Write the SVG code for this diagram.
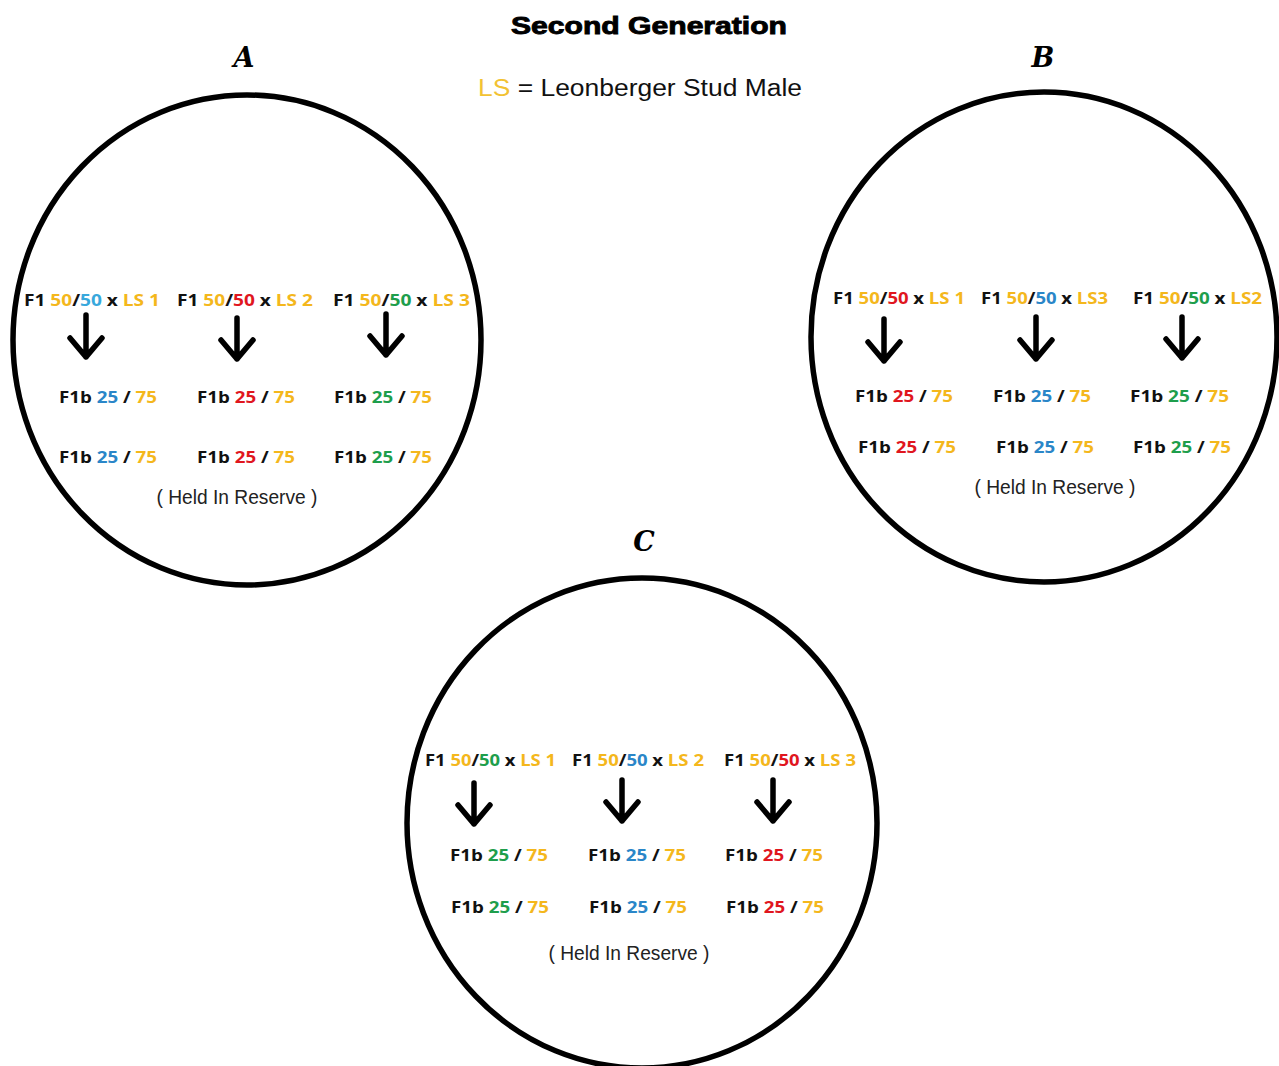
<svg xmlns="http://www.w3.org/2000/svg" width="1279" height="1066" viewBox="0 0 1279 1066">
<style>
.ring{fill:none;stroke:#000;stroke-width:5.5}
.arr{fill:none;stroke:#000;stroke-width:5.5;stroke-linecap:round;stroke-linejoin:round}
.t{font-family:"Open Sans","Liberation Sans",sans-serif;font-weight:700;font-size:16px}
.h{font-family:"Liberation Sans",Arial,sans-serif;font-size:20px;fill:#222;text-anchor:middle}
.lab{font-family:"DejaVu Serif","Liberation Serif",serif;font-weight:700;font-style:italic;font-size:27px;fill:#000;text-anchor:middle}
.k{fill:#111}.y{fill:#f4b71c}.b{fill:#2a86c8}.lb{fill:#38a8dc}.r{fill:#e0161e}.g{fill:#1e9e4c}
</style>
<rect width="1279" height="1066" fill="#fff"/>
<g id="header">
<text x="649" y="34" text-anchor="middle" font-family="'Liberation Sans',Arial,sans-serif" font-weight="900" font-size="24" stroke="#000" stroke-width="0.9" textLength="276" lengthAdjust="spacingAndGlyphs">Second Generation</text>
<text x="478" y="96" font-family="'Liberation Sans',Arial,sans-serif" font-size="23" textLength="324" lengthAdjust="spacingAndGlyphs"><tspan fill="#f2c233">LS</tspan><tspan fill="#111"> = Leonberger Stud Male</tspan></text>
</g>
<g id="nodeA">
<ellipse class="ring" cx="247" cy="340" rx="234" ry="245"/>
<text class="lab" x="244" y="67">A</text>
<text class="t" x="24" y="306" textLength="136" lengthAdjust="spacingAndGlyphs"><tspan class="k">F1 </tspan><tspan class="y">50</tspan><tspan class="k">/</tspan><tspan class="lb">50</tspan><tspan class="k" dx="4">x </tspan><tspan class="y">LS 1</tspan></text>
<text class="t" x="177" y="306" textLength="136" lengthAdjust="spacingAndGlyphs"><tspan class="k">F1 </tspan><tspan class="y">50</tspan><tspan class="k">/</tspan><tspan class="r">50</tspan><tspan class="k" dx="4">x </tspan><tspan class="y">LS 2</tspan></text>
<text class="t" x="333" y="306" textLength="137" lengthAdjust="spacingAndGlyphs"><tspan class="k">F1 </tspan><tspan class="y">50</tspan><tspan class="k">/</tspan><tspan class="g">50</tspan><tspan class="k" dx="4">x </tspan><tspan class="y">LS 3</tspan></text>
<text class="t" x="59" y="403" textLength="98" lengthAdjust="spacingAndGlyphs"><tspan class="k">F1b </tspan><tspan class="b">25</tspan><tspan class="k"> / </tspan><tspan class="y">75</tspan></text>
<text class="t" x="197" y="403" textLength="98" lengthAdjust="spacingAndGlyphs"><tspan class="k">F1b </tspan><tspan class="r">25</tspan><tspan class="k"> / </tspan><tspan class="y">75</tspan></text>
<text class="t" x="334" y="403" textLength="98" lengthAdjust="spacingAndGlyphs"><tspan class="k">F1b </tspan><tspan class="g">25</tspan><tspan class="k"> / </tspan><tspan class="y">75</tspan></text>
<text class="t" x="59" y="463" textLength="98" lengthAdjust="spacingAndGlyphs"><tspan class="k">F1b </tspan><tspan class="b">25</tspan><tspan class="k"> / </tspan><tspan class="y">75</tspan></text>
<text class="t" x="197" y="463" textLength="98" lengthAdjust="spacingAndGlyphs"><tspan class="k">F1b </tspan><tspan class="r">25</tspan><tspan class="k"> / </tspan><tspan class="y">75</tspan></text>
<text class="t" x="334" y="463" textLength="98" lengthAdjust="spacingAndGlyphs"><tspan class="k">F1b </tspan><tspan class="g">25</tspan><tspan class="k"> / </tspan><tspan class="y">75</tspan></text>
<text class="h" x="237" y="504" textLength="161" lengthAdjust="spacingAndGlyphs">( Held In Reserve )</text>
</g>
<g id="nodeB">
<ellipse class="ring" cx="1044" cy="337" rx="233" ry="245"/>
<text class="lab" x="1043" y="67">B</text>
<text class="t" x="833" y="304" textLength="132" lengthAdjust="spacingAndGlyphs"><tspan class="k">F1 </tspan><tspan class="y">50</tspan><tspan class="k">/</tspan><tspan class="r">50</tspan><tspan class="k" dx="4">x </tspan><tspan class="y">LS 1</tspan></text>
<text class="t" x="981" y="304" textLength="127" lengthAdjust="spacingAndGlyphs"><tspan class="k">F1 </tspan><tspan class="y">50</tspan><tspan class="k">/</tspan><tspan class="b">50</tspan><tspan class="k" dx="4">x </tspan><tspan class="y">LS3</tspan></text>
<text class="t" x="1133" y="304" textLength="129" lengthAdjust="spacingAndGlyphs"><tspan class="k">F1 </tspan><tspan class="y">50</tspan><tspan class="k">/</tspan><tspan class="g">50</tspan><tspan class="k" dx="4">x </tspan><tspan class="y">LS2</tspan></text>
<text class="t" x="855" y="402" textLength="98" lengthAdjust="spacingAndGlyphs"><tspan class="k">F1b </tspan><tspan class="r">25</tspan><tspan class="k"> / </tspan><tspan class="y">75</tspan></text>
<text class="t" x="993" y="402" textLength="98" lengthAdjust="spacingAndGlyphs"><tspan class="k">F1b </tspan><tspan class="b">25</tspan><tspan class="k"> / </tspan><tspan class="y">75</tspan></text>
<text class="t" x="1130" y="402" textLength="99" lengthAdjust="spacingAndGlyphs"><tspan class="k">F1b </tspan><tspan class="g">25</tspan><tspan class="k"> / </tspan><tspan class="y">75</tspan></text>
<text class="t" x="858" y="453" textLength="98" lengthAdjust="spacingAndGlyphs"><tspan class="k">F1b </tspan><tspan class="r">25</tspan><tspan class="k"> / </tspan><tspan class="y">75</tspan></text>
<text class="t" x="996" y="453" textLength="98" lengthAdjust="spacingAndGlyphs"><tspan class="k">F1b </tspan><tspan class="b">25</tspan><tspan class="k"> / </tspan><tspan class="y">75</tspan></text>
<text class="t" x="1133" y="453" textLength="98" lengthAdjust="spacingAndGlyphs"><tspan class="k">F1b </tspan><tspan class="g">25</tspan><tspan class="k"> / </tspan><tspan class="y">75</tspan></text>
<text class="h" x="1055" y="494" textLength="161" lengthAdjust="spacingAndGlyphs">( Held In Reserve )</text>
</g>
<g id="nodeC">
<ellipse class="ring" cx="642" cy="823" rx="235" ry="245"/>
<text class="lab" x="644" y="551">C</text>
<text class="t" x="425" y="766" textLength="131" lengthAdjust="spacingAndGlyphs"><tspan class="k">F1 </tspan><tspan class="y">50</tspan><tspan class="k">/</tspan><tspan class="g">50</tspan><tspan class="k" dx="4">x </tspan><tspan class="y">LS 1</tspan></text>
<text class="t" x="572" y="766" textLength="132" lengthAdjust="spacingAndGlyphs"><tspan class="k">F1 </tspan><tspan class="y">50</tspan><tspan class="k">/</tspan><tspan class="b">50</tspan><tspan class="k" dx="4">x </tspan><tspan class="y">LS 2</tspan></text>
<text class="t" x="724" y="766" textLength="132" lengthAdjust="spacingAndGlyphs"><tspan class="k">F1 </tspan><tspan class="y">50</tspan><tspan class="k">/</tspan><tspan class="r">50</tspan><tspan class="k" dx="4">x </tspan><tspan class="y">LS 3</tspan></text>
<text class="t" x="450" y="861" textLength="98" lengthAdjust="spacingAndGlyphs"><tspan class="k">F1b </tspan><tspan class="g">25</tspan><tspan class="k"> / </tspan><tspan class="y">75</tspan></text>
<text class="t" x="588" y="861" textLength="98" lengthAdjust="spacingAndGlyphs"><tspan class="k">F1b </tspan><tspan class="b">25</tspan><tspan class="k"> / </tspan><tspan class="y">75</tspan></text>
<text class="t" x="725" y="861" textLength="98" lengthAdjust="spacingAndGlyphs"><tspan class="k">F1b </tspan><tspan class="r">25</tspan><tspan class="k"> / </tspan><tspan class="y">75</tspan></text>
<text class="t" x="451" y="913" textLength="98" lengthAdjust="spacingAndGlyphs"><tspan class="k">F1b </tspan><tspan class="g">25</tspan><tspan class="k"> / </tspan><tspan class="y">75</tspan></text>
<text class="t" x="589" y="913" textLength="98" lengthAdjust="spacingAndGlyphs"><tspan class="k">F1b </tspan><tspan class="b">25</tspan><tspan class="k"> / </tspan><tspan class="y">75</tspan></text>
<text class="t" x="726" y="913" textLength="98" lengthAdjust="spacingAndGlyphs"><tspan class="k">F1b </tspan><tspan class="r">25</tspan><tspan class="k"> / </tspan><tspan class="y">75</tspan></text>
<text class="h" x="629" y="960" textLength="161" lengthAdjust="spacingAndGlyphs">( Held In Reserve )</text>
</g>
<g id="connectors">
<path class="arr" d="M86,315 V357 M70,338 L86,357 L102,338"/>
<path class="arr" d="M237,318 V359 M221,340 L237,359 L253,340"/>
<path class="arr" d="M386,314 V355 M370,336 L386,355 L402,336"/>
<path class="arr" d="M884,319 V361 M868,342 L884,361 L900,342"/>
<path class="arr" d="M1036,317 V359 M1020,340 L1036,359 L1052,340"/>
<path class="arr" d="M1182,317 V358 M1166,339 L1182,358 L1198,339"/>
<path class="arr" d="M474,783 V824 M458,805 L474,824 L490,805"/>
<path class="arr" d="M622,780 V821 M606,802 L622,821 L638,802"/>
<path class="arr" d="M773,780 V821 M757,802 L773,821 L789,802"/>
</g>
</svg>
